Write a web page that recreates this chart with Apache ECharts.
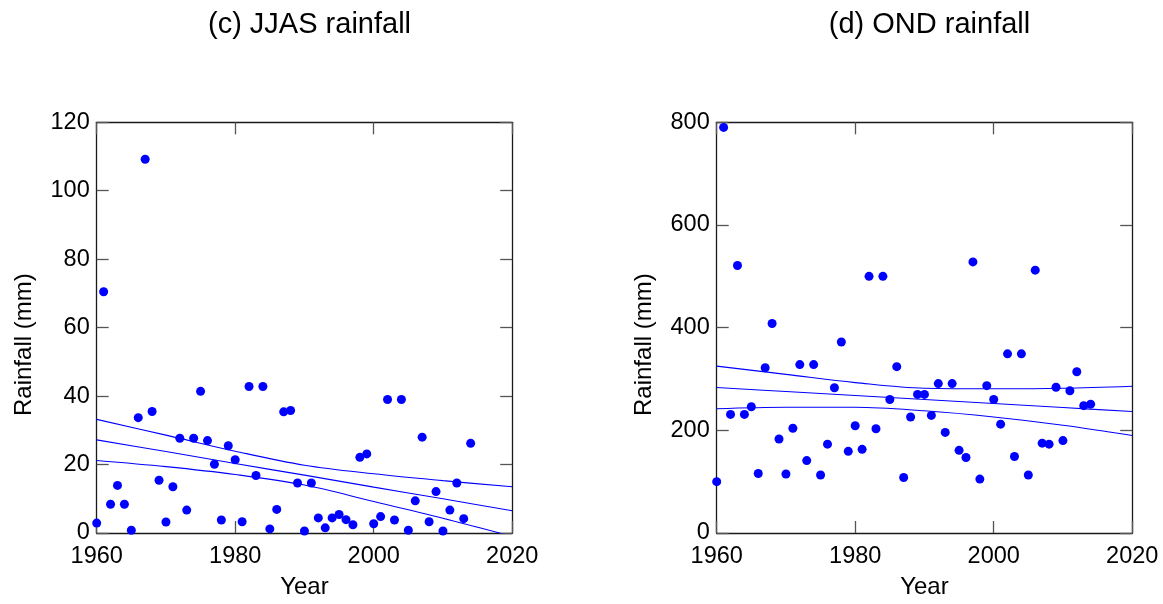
<!DOCTYPE html>
<html>
<head>
<meta charset="utf-8">
<script src="https://cdn.jsdelivr.net/npm/echarts@6/dist/echarts.min.js"></script>
<style>
html,body{margin:0;padding:0;background:#fff;}
#chart{width:1163px;height:604px;}
</style>
</head>
<body>
<div id="chart"></div>
<script>
// ---- data ----
const years = [1960,1961,1962,1963,1964,1965,1966,1967,1968,1969,
  1970,1971,1972,1973,1974,1975,1976,1977,1978,1979,
  1980,1981,1982,1983,1984,1985,1986,1987,1988,1989,
  1990,1991,1992,1993,1994,1995,1996,1997,1998,1999,
  2000,2001,2002,2003,2004,2005,2006,2007,2008,2009,
  2010,2011,2012,2013,2014];
const jjasRain = [2.9,70.5,8.4,13.9,8.4,0.8,33.7,109.2,35.5,15.4,
  3.2,13.5,27.7,6.7,27.7,41.4,27.0,20.1,3.8,25.5,
  21.4,3.3,42.8,16.8,42.8,1.2,6.9,35.4,35.8,14.6,
  0.6,14.6,4.4,1.5,4.4,5.4,3.9,2.4,22.1,23.1,
  2.7,4.8,39.0,3.8,39.0,0.8,9.4,28.0,3.3,12.1,
  0.6,6.7,14.6,4.2,26.2];
const ondRain = [100,790,231,521,231,246,116,322,408,183,
  115,204,328,141,328,113,173,283,372,159,
  209,163,500,203,500,260,324,108,226,270,
  270,229,291,196,291,161,147,528,105,287,
  260,212,349,149,349,113,512,175,173,284,
  180,277,314,248,251];
// trend line and confidence bands (read at each decade)
const lineYears = [1960,1970,1980,1990,2000,2010,2020];
const jjasTrend = [27.2,23.8,20.3,16.9,13.4,10.0,6.5];
const jjasUpper = [33.2,28.6,23.9,19.8,17.3,15.3,13.5];
const jjasLower = [21.2,19.4,17.1,14.0,9.2,4.3,-1.0];
const ondTrend = [283.4,275.6,267.8,260.0,252.2,244.4,236.6];
const ondUpper = [325,309,293,282,281,282,286];
const ondLower = [242,245,245,238,226,210,190];
const titles = ['(c) JJAS rainfall','(d) OND rainfall'];
const xTicks = {min:1960,max:2020,interval:20};
const yLeft = {min:0,max:120,interval:20};
const yRight = {min:0,max:800,interval:200};

// ---- chart ----
const FONT = '"Liberation Sans", Arial, Helvetica, sans-serif';
const pair = (xs, ys) => xs.map((x,i)=>[x, ys[i]]);
const gridsPos = [{left:96.7, top:122.3, width:415.5, height:415.4},
                  {left:716.7, top:122.3, width:415.5, height:415.4}];
const axisLineStyle = {color:'#1a1a1a', width:1.3};
const tickStyle = {color:'#555', width:1.3};

function xAxes(g){
  return [
    {gridIndex:g, type:'value', position:'bottom', min:xTicks.min, max:xTicks.max, interval:xTicks.interval,
     name:'Year', nameLocation:'middle', nameGap:42,
     nameTextStyle:{fontFamily:FONT, fontSize:24, color:'#000'},
     axisLine:{show:true, onZero:false, lineStyle:axisLineStyle},
     axisTick:{show:true, inside:true, length:12, lineStyle:tickStyle},
     axisLabel:{show:true, fontFamily:FONT, fontSize:23.5, color:'#000', margin:12,
       formatter:(v)=>String(v)},
     splitLine:{show:false}},
    {gridIndex:g, type:'value', position:'top', min:xTicks.min, max:xTicks.max, interval:xTicks.interval,
     axisLine:{show:true, onZero:false, lineStyle:axisLineStyle},
     axisTick:{show:true, inside:true, length:12, lineStyle:tickStyle},
     axisLabel:{show:false}, splitLine:{show:false}}
  ];
}
function yAxes(g, r){
  return [
    {gridIndex:g, type:'value', position:'left', min:r.min, max:r.max, interval:r.interval,
     name:'Rainfall (mm)', nameLocation:'middle', nameGap:60,
     nameTextStyle:{fontFamily:FONT, fontSize:24, color:'#000', padding:[0,34,0,0]},
     axisLine:{show:true, onZero:false, lineStyle:axisLineStyle},
     axisTick:{show:true, inside:true, length:12, lineStyle:tickStyle},
     axisLabel:{show:true, fontFamily:FONT, fontSize:23.5, color:'#000', margin:7,
       formatter:(v)=>String(v)},
     splitLine:{show:false}},
    {gridIndex:g, type:'value', position:'right', min:r.min, max:r.max, interval:r.interval,
     axisLine:{show:true, onZero:false, lineStyle:axisLineStyle},
     axisTick:{show:true, inside:true, length:12, lineStyle:tickStyle},
     axisLabel:{show:false}, splitLine:{show:false}}
  ];
}
function lineSeries(xi, yi, data){
  return {type:'line', xAxisIndex:xi, yAxisIndex:yi, data:data, smooth:0.35,
    showSymbol:false, symbol:'none', clip:true, silent:true,
    lineStyle:{color:'#0000ff', width:1.1, opacity:1}, z:3};
}
function scatterSeries(xi, yi, data){
  return {type:'scatter', xAxisIndex:xi, yAxisIndex:yi, data:data,
    symbolSize:9, itemStyle:{color:'#0000ff', opacity:1}, z:4};
}

const option = {
  animation:false,
  backgroundColor:'#fff',
  title:[
    {text:titles[0], left:304.5, top:5, textAlign:'center',
     textStyle:{fontFamily:FONT, fontSize:29, fontWeight:'normal', color:'#000'}},
    {text:titles[1], left:924.5, top:5, textAlign:'center',
     textStyle:{fontFamily:FONT, fontSize:29, fontWeight:'normal', color:'#000'}}
  ],
  grid:gridsPos,
  xAxis:[...xAxes(0), ...xAxes(1)],
  yAxis:[...yAxes(0, yLeft), ...yAxes(1, yRight)],
  series:[
    scatterSeries(0,0,pair(years, jjasRain)),
    lineSeries(0,0,pair(lineYears, jjasUpper)),
    lineSeries(0,0,pair(lineYears, jjasTrend)),
    lineSeries(0,0,pair(lineYears, jjasLower)),
    scatterSeries(2,2,pair(years, ondRain)),
    lineSeries(2,2,pair(lineYears, ondUpper)),
    lineSeries(2,2,pair(lineYears, ondTrend)),
    lineSeries(2,2,pair(lineYears, ondLower))
  ]
};
const chart = echarts.init(document.getElementById('chart'), null, {renderer:'canvas'});
chart.setOption(option);
</script>
</body>
</html>
